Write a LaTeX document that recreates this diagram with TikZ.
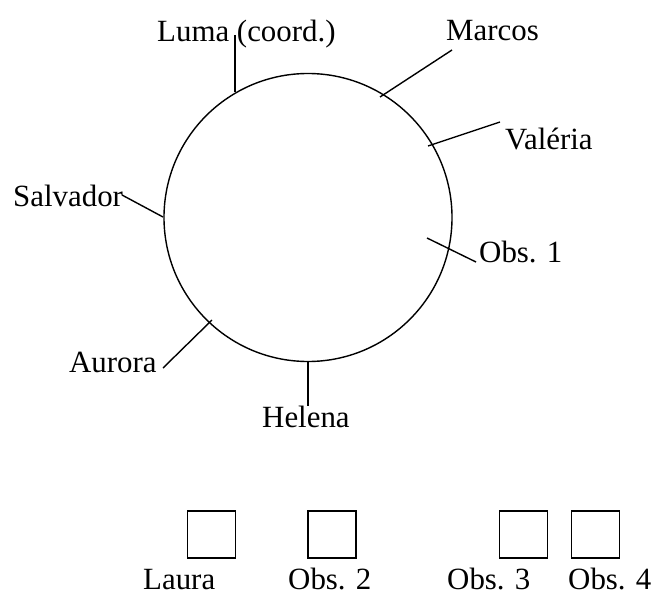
\documentclass[tikz,border=0pt]{standalone}
\usepackage{fontspec}
\setmainfont{Liberation Serif}
\begin{document}
\begin{tikzpicture}[x=1bp,y=-1bp,
  lbl/.style={inner sep=0pt,anchor=base west,font=\fontsize{31}{36}\selectfont},
  conn/.style={line width=1.4bp},
  seat/.style={draw,line width=1.4bp,minimum width=48bp,minimum height=47bp,inner sep=0pt}]
\useasboundingbox (0,0) rectangle (651,595);
% table
\node[draw,circle,line width=1.4bp,minimum size=288bp,inner sep=0pt] (table) at (308,217.5) {};
% labels
\node[lbl] (luma) at (157,42) {Luma (coord.)};
\node[lbl] (marcos) at (446,41) {Marcos};
\node[lbl] (valeria) at (505,150) {Valéria};
\node[lbl] (obs1) at (479,262) {Obs. 1};
\node[lbl] (salvador) at (13,206) {Salvador};
\node[lbl] (aurora) at (69,372) {Aurora};
\node[lbl] (helena) at (262,427) {Helena};
% connector endpoints
\coordinate (lumaA) at (235,35);  \coordinate (lumaB) at (235,92);
\coordinate (marA) at (452,50);   \coordinate (marB) at (380,97);
\coordinate (valA) at (500,122);  \coordinate (valB) at (428,146);
\coordinate (o1A) at (476,262);   \coordinate (o1B) at (427,238);
\coordinate (salA) at (122,195);  \coordinate (salB) at (163,217);
\coordinate (aurA) at (163,368);  \coordinate (aurB) at (212,320);
\coordinate (helA) at (308,361);  \coordinate (helB) at (308,406);
\draw[conn] (lumaA) -- (lumaB);
\draw[conn] (marA) -- (marB);
\draw[conn] (valA) -- (valB);
\draw[conn] (o1A) -- (o1B);
\draw[conn] (salA) -- (salB);
\draw[conn] (aurA) -- (aurB);
\draw[conn] (helA) -- (helB);
% seats below
\node[seat] (s1) at (211.5,534.5) {};
\node[seat] (s2) at (332,534.5) {};
\node[seat] (s3) at (523.5,534.5) {};
\node[seat] (s4) at (595.5,534.5) {};
\node[lbl] (laura) at (143,589) {Laura};
\node[lbl] (obs2) at (288,589) {Obs. 2};
\node[lbl] (obs3) at (447,589) {Obs. 3};
\node[lbl] (obs4) at (568,589) {Obs. 4};
\end{tikzpicture}
\end{document}
